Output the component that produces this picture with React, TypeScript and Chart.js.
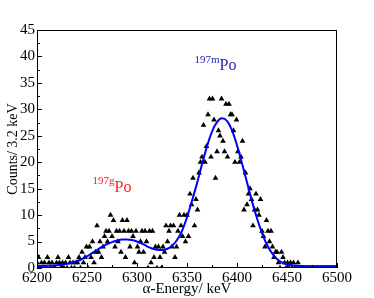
import React, { useEffect, useRef } from "react";
import { Chart, registerables } from "chart.js";

Chart.register(...registerables);

// Histogram: counts per bin, bins start at 6200 keV, 1.5 keV apart
const BIN_START = 6200;
const BIN_STEP = 1.5;
const counts = [
  1, 2, 0, 1, 0, 1, 0, 2, 1, 0,
  1, 0, 0, 1, 2, 1, 0, 1, 0, 1,
  0, 2, 1, 0, 1, 0, 1, 1, 2, 0,
  3, 1, 2, 4, 0, 4, 2, 5, 1, 3,
  8, 3, 5, 2, 4, 6, 7, 5, 7, 10,
  6, 9, 4, 7, 5, 7, 3, 9, 7, 2,
  9, 7, 4, 7, 6, 1, 7, 4, 3, 5,
  7, 3, 7, 5, 0, 7, 1, 7, 2, 4,
  0, 4, 2, 0, 4, 3, 8, 5, 7, 8,
  4, 8, 2, 4, 7, 10, 8, 6, 10, 5,
  10, 6, 14, 12, 17, 8, 13, 11, 18, 20,
  21, 27, 20, 23, 29, 32, 21, 32, 28, 17,
  22, 26, 25, 32, 24, 22, 31, 21, 31, 29,
  29, 26, 20, 28, 22, 20, 21, 24, 11, 18,
  12, 14, 15, 13, 8, 11, 14, 11, 10, 13,
  7, 6, 4, 9, 7, 5, 7, 4, 2, 3,
  3, 1, 0, 3, 2, 1, 0, 1, 0, 1,
  0, 1, 0, 0, 1, 0, 0, 0, 0, 0,
  0, 0, 0, 0, 0, 0, 0, 0, 0, 0,
  0, 0, 0, 0, 0, 0, 0, 0, 0, 0,
  0,
];

// Fit curve
const fitEnergies = [
  6200, 6205, 6210, 6215, 6220, 6225, 6230, 6235, 6240, 6245,
  6250, 6255, 6260, 6265, 6270, 6275, 6280, 6285, 6290, 6295,
  6300, 6305, 6310, 6315, 6320, 6325, 6330, 6335, 6340, 6345,
  6350, 6355, 6360, 6365, 6370, 6375, 6380, 6385, 6390, 6395,
  6400, 6405, 6410, 6415, 6420, 6425, 6430, 6435, 6440, 6445,
  6450, 6455, 6460, 6465, 6470, 6475, 6480, 6485, 6490, 6495,
  6500,
];
const fitValues = [
  0.35, 0.38, 0.42, 0.47, 0.53, 0.62, 0.78, 1.0, 1.3, 1.7,
  2.2, 2.8, 3.4, 4.0, 4.5, 4.9, 5.2, 5.4, 5.4, 5.3,
  5.0, 4.6, 4.1, 3.7, 3.45, 3.4, 3.6, 4.2, 5.3, 7.0,
  9.6, 12.7, 16.0, 19.6, 23.0, 25.8, 27.6, 28.3, 27.8, 26.0,
  23.2, 19.8, 16.2, 12.6, 9.4, 6.6, 4.4, 2.8, 1.7, 1.0,
  0.7, 0.5, 0.42, 0.38, 0.35, 0.35, 0.35, 0.35, 0.35, 0.35,
  0.35,
];

const xMin = 6200;
const xMax = 6500;
const yMin = 0;
const yMax = 45;
const xMajorStep = 50;
const yMajorStep = 5;
const xTickMarks = [6200, 6225, 6250, 6275, 6300, 6325, 6350, 6375, 6400, 6425, 6450, 6475, 6500];
const yTickMarks = [0, 2.5, 5, 7.5, 10, 12.5, 15, 17.5, 20, 22.5, 25, 27.5, 30, 32.5, 35, 37.5, 40, 42.5, 45];

const peakLabels = [
  { sup: "197g", main: "Po", e: 6255.5, c: 14.4, color: "#ff1a1a" },
  { sup: "197m", main: "Po", e: 6357.5, c: 37.4, color: "#2424b4" },
];

const FONT = '"Liberation Serif", "DejaVu Serif", serif';

const decorPlugin = {
  id: "decor",
  afterDatasetsDraw(chart: any) {
    const { ctx, scales } = chart;
    const xs = scales.x;
    const ys = scales.y;
    ctx.save();
    for (const lab of peakLabels) {
      const x0 = xs.getPixelForValue(lab.e);
      const yb = ys.getPixelForValue(lab.c);
      ctx.fillStyle = lab.color;
      ctx.textBaseline = "alphabetic";
      ctx.textAlign = "left";
      ctx.font = `11px ${FONT}`;
      ctx.fillText(lab.sup, x0, yb - 7.5);
      const w = ctx.measureText(lab.sup).width;
      ctx.font = `16px ${FONT}`;
      ctx.fillText(lab.main, x0 + w, yb);
    }
    ctx.restore();
  },
  afterDraw(chart: any) {
    const { ctx, chartArea: a, scales } = chart;
    const xs = scales.x;
    const ys = scales.y;
    ctx.save();
    ctx.strokeStyle = "#000";
    ctx.lineWidth = 1;
    ctx.strokeRect(a.left + 0.5, a.top + 0.5, a.right - a.left - 1, a.bottom - a.top - 1);
    ctx.beginPath();
    for (const v of xTickMarks) {
      const px = Math.round(xs.getPixelForValue(v)) + 0.5;
      const len = v % xMajorStep === 0 ? 5 : 3;
      ctx.moveTo(px, a.bottom);
      ctx.lineTo(px, a.bottom - len);
    }
    for (const v of yTickMarks) {
      const py = Math.round(ys.getPixelForValue(v)) + 0.5;
      const len = v % yMajorStep === 0 ? 5 : 3;
      ctx.moveTo(a.left, py);
      ctx.lineTo(a.left + len, py);
    }
    ctx.stroke();
    ctx.restore();
  },
};

export default function App() {
  const ref = useRef<HTMLCanvasElement | null>(null);

  useEffect(() => {
    document.body.style.margin = "0";
    const canvas = ref.current;
    if (!canvas) return;
    const scatterData = counts.map((c, i) => ({ x: BIN_START + i * BIN_STEP, y: c }));
    const fitData = fitEnergies.map((e, i) => ({ x: e, y: fitValues[i] }));
    const chart = new Chart(canvas, {
      type: "scatter",
      data: {
        datasets: [
          {
            type: "line",
            data: fitData,
            showLine: true,
            borderColor: "#0000ff",
            borderWidth: 2,
            pointRadius: 0,
            cubicInterpolationMode: "monotone",
            fill: false,
            order: 0,
          } as any,
          {
            type: "scatter",
            data: scatterData,
            pointStyle: "triangle",
            pointRadius: 3.3,
            backgroundColor: "#000",
            borderColor: "#000",
            borderWidth: 0,
            order: 1,
          } as any,
        ],
      },
      options: {
        responsive: false,
        animation: false,
        layout: { padding: { top: 30, right: 37, left: 0, bottom: 0 } },
        plugins: { legend: { display: false }, tooltip: { enabled: false } },
        scales: {
          x: {
            type: "linear",
            min: xMin,
            max: xMax,
            afterFit: (s: any) => {
              s.height = 30;
            },
            grid: { display: false, drawTicks: false },
            border: { display: false },
            ticks: {
              stepSize: xMajorStep,
              color: "#000",
              padding: 1,
              maxRotation: 0,
              autoSkip: false,
              font: { family: FONT, size: 15 },
              callback: (v: any) => String(v),
            },
            title: {
              display: true,
              text: "α-Energy/ keV",
              color: "#000",
              font: { family: FONT, size: 15 },
              padding: { top: 0, bottom: 0 },
            },
          },
          y: {
            type: "linear",
            min: yMin,
            max: yMax,
            afterFit: (s: any) => {
              s.width = 37;
            },
            grid: { display: false, drawTicks: false },
            border: { display: false },
            ticks: {
              stepSize: yMajorStep,
              color: "#000",
              padding: 2,
              font: { family: FONT, size: 15 },
              callback: (v: any) => String(v),
            },
            title: {
              display: true,
              text: "Counts/ 3.2 keV",
              color: "#000",
              font: { family: FONT, size: 14 },
              padding: { top: 5, bottom: 0 },
            },
          },
        },
      } as any,
      plugins: [decorPlugin],
    });
    return () => chart.destroy();
  }, []);

  return (
    <div style={{ position: "absolute", left: 0, top: 0, width: 374, height: 298 }}>
      <canvas ref={ref} width={374} height={298} style={{ width: 374, height: 298, display: "block" }} />
    </div>
  );
}
